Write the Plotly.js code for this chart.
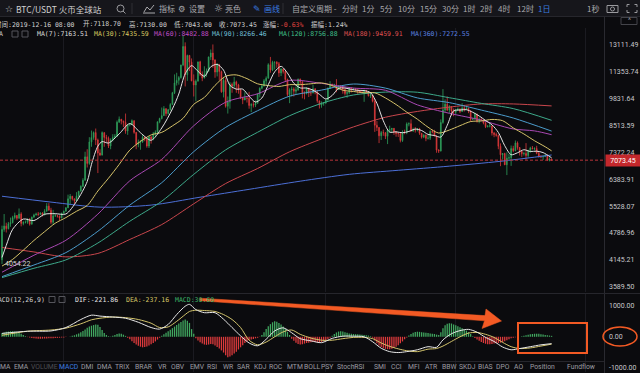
<!DOCTYPE html>
<html><head><meta charset="utf-8">
<script src="https://cdn.plot.ly/plotly-3.0.1.min.js"></script>
<style>html,body{margin:0;padding:0;background:#0b0b0e;}#c{width:640px;height:373px;}</style>
</head><body><div id="c"></div>
<script>
// ---------- DATA (daily OHLC, BTC/USDT, from 2019-04-02) ----------
const startDay = [2019, 3, 2];
const apr = [[4146,4980,4054.22,4880],[4880,5300,4820,4970],[4970,5060,4800,4900],[4900,5080,4880,5030],[5030,5200,4950,5060],[5060,5250,5040,5200],[5200,5340,5150,5260],[5260,5270,5130,5180],[5180,5460,5170,5300],[5300,5350,4960,5040],[5040,5100,4990,5070],[5070,5120,5040,5070],[5070,5180,5030,5140],[5140,5190,4980,5020],[5020,5230,5010,5210],[5210,5310,5200,5270],[5270,5340,5260,5300],[5300,5360,5240,5290],[5290,5350,5280,5330],[5330,5350,5230,5280],[5280,5440,5260,5380],[5380,5620,5370,5530],[5530,5620,5400,5410],[5410,5480,5020,5070],[5070,5420,5000,5250],[5250,5300,5220,5250],[5250,5280,5200,5240],[5240,5260,5120,5190],[5190,5340,5180,5320]];
const may = [[5320,5400,5310,5380],[5380,5500,5370,5480],[5480,5880,5470,5750],[5750,5900,5580,5830],[5830,5840,5700,5750],[5750,5760,5600,5690],[5690,5960,5680,5830],[5830,6000,5790,5990],[5990,6180,5980,6150],[6150,6420,6120,6350],[6350,7400,6340,7200],[7200,7500,6800,6950],[6950,8000,6900,7800],[7800,8290,7600,7990],[7990,8250,7890,8200],[8200,8380,7670,7880],[7880,7940,6600,7350],[7350,7500,7230,7270],[7270,8250,7250,8200],[8200,8200,7600,7990],[7990,8100,7800,7950],[7950,8030,7550,7630],[7630,7950,7500,7880],[7880,8130,7820,7990],[7990,8140,7960,8050],[8050,8750,8000,8670],[8670,8940,8640,8810],[8810,8820,8570,8720],[8720,8740,8450,8660],[8660,9080,8150,8270],[8270,8580,8100,8550]];
const jun = [[8550,8620,8480,8560],[8560,8800,8540,8740],[8740,8750,8150,8210],[8210,8220,7500,7700],[7700,7900,7580,7790],[7790,7880,7480,7800],[7800,8100,7760,8000],[8000,8050,7830,7930],[7930,7940,7560,7630],[7630,8050,7550,8020],[8020,8030,7730,7920],[7920,8230,7870,8150],[8150,8300,8050,8230],[8230,8700,8180,8690],[8690,8880,8620,8840],[8840,9380,8800,8980],[8980,9450,8970,9320],[9320,9340,8950,9080],[9080,9310,9030,9270],[9270,9600,9230,9530],[9530,10200,9520,10150],[10150,11200,10080,10700],[10700,11300,10550,10850],[10850,11100,10600,11010],[11010,11800,10950,11780],[11780,13800,11700,13010],[13010,13300,10500,11180],[11180,12450,10820,12400],[12400,12430,11400,11960],[11960,12200,10800,10820]];
const jul = [[10820,11200,9950,10580],[10580,10900,9700,10800],[10800,11980,10790,11980],[11980,12050,11100,11210],[11210,11380,10800,10980],[10980,11700,10970,11230],[11230,11560,11060,11400],[11400,12320,11360,12300],[12300,12800,12100,12560],[12560,13150,11600,12100],[12100,12150,11000,11340],[11340,11900,11080,11800],[11800,11850,10850,11370],[11370,11430,10150,10200],[10200,11050,9900,10850],[10850,11000,9370,9440],[9440,9950,9080,9660],[9660,10750,9320,10620],[10620,10720,10150,10530],[10530,11050,10420,10760],[10760,10830,10150,10590],[10590,10650,10100,10320],[10320,10330,9820,9870],[9870,9930,9550,9770],[9770,10180,9750,9880],[9880,9900,9630,9850],[9850,10200,9320,9480],[9480,9600,9150,9530],[9530,9700,9380,9500],[9500,9740,9400,9590],[9590,10120,9580,10080]];
const aug = [[10080,10450,9900,10400],[10400,10650,10340,10520],[10520,10920,10500,10820],[10820,11080,10580,10970],[10970,11890,10960,11800],[11800,12300,11300,11470],[11470,12050,11400,11950],[11950,12000,11500,11960],[11960,12020,11600,11860],[11860,11970,11050,11290],[11290,11580,11100,11530],[11530,11550,11250,11380],[11380,11430,10800,10900],[10900,10950,9950,10050],[10050,10400,9600,10300],[10300,10500,9950,10360],[10360,10450,9950,10230],[10230,10490,10050,10320],[10320,10950,10250,10920],[10920,10950,10600,10760],[10760,10800,9850,10130],[10130,10230,9800,10110],[10110,10450,10060,10410],[10410,10420,9920,10140],[10140,10310,9980,10140],[10140,10600,10120,10370],[10370,10390,10070,10190],[10190,10300,9620,9720],[9720,9730,9330,9500],[9500,9690,9370,9580],[9580,9650,9470,9600]];
const sep = [[9600,9800,9580,9760],[9760,10450,9740,10390],[10390,10800,10360,10620],[10620,10660,10420,10580],[10580,10650,10460,10590],[10590,10920,10180,10320],[10320,10570,10300,10510],[10510,10580,10330,10440],[10440,10480,10100,10340],[10340,10380,10000,10110],[10110,10200,9880,10160],[10160,10450,10080,10420],[10420,10440,10170,10360],[10360,10420,10290,10370],[10370,10390,10270,10310],[10310,10370,10090,10260],[10260,10270,10140,10190],[10190,10280,10120,10160],[10160,10320,9670,10270],[10270,10300,10100,10180],[10180,10200,9950,9990],[9990,10100,9870,10030],[10030,10050,9640,9700],[9700,9800,8230,8530],[8530,8720,8270,8430],[8430,8440,7750,8060],[8060,8270,7880,8200],[8200,8330,8060,8190],[8190,8220,7920,8040],[8040,8350,7710,8290]];
const oct = [[8290,8510,8230,8340],[8340,8400,8200,8390],[8390,8400,8100,8230],[8230,8250,8020,8160],[8160,8190,8010,8150],[8150,8180,7780,7860],[7860,8300,7800,8210],[8210,8330,8130,8200],[8200,8660,8130,8590],[8590,8660,8480,8600],[8600,8800,8250,8260],[8260,8420,8250,8320],[8320,8450,8200,8310],[8310,8400,8250,8370],[8370,8410,8100,8170],[8170,8180,7940,8000],[8000,8130,7960,8090],[8090,8120,7830,7950],[7950,8100,7900,7960],[7960,8300,7880,8250],[8250,8330,8170,8230],[8230,8320,8030,8050],[8050,8060,7360,7470],[7470,7500,7350,7430],[7430,8800,7410,8660],[8660,10350,8600,9260],[9260,9800,9140,9550],[9550,9950,9200,9250],[9250,9500,9100,9430],[9430,9440,8980,9210],[9210,9330,8950,9150]];
const nov = [[9150,9290,9040,9250],[9250,9380,9220,9310],[9310,9330,9100,9180],[9180,9600,9170,9360],[9360,9490,9180,9310],[9310,9420,9250,9340],[9340,9370,9100,9210],[9210,9230,8700,8800],[8800,8880,8770,8810],[8810,9120,8800,9040],[9040,9080,8650,8730],[8730,8890,8620,8820],[8820,8850,8720,8760],[8760,8790,8570,8630],[8630,8680,8400,8460],[8460,8530,8430,8490],[8490,8650,8430,8500],[8500,8510,8070,8180],[8180,8230,8000,8120],[8120,8200,8020,8080],[8080,8110,7500,7620],[7620,7740,6850,7280],[7280,7350,7100,7330],[7330,7360,6890,6900],[6900,7380,6530,7150],[7150,7320,7080,7170],[7170,7650,6860,7530],[7530,7640,7380,7440],[7440,7860,7420,7760],[7760,7820,7480,7570]];
const dec = [[7570,7580,7250,7420],[7420,7430,7200,7320],[7320,7400,7250,7330],[7330,7750,7090,7250],[7250,7480,7170,7450],[7450,7600,7360,7550],[7550,7630,7500,7520],[7520,7580,7460,7530],[7530,7640,7300,7340],[7340,7390,7170,7220],[7220,7270,7150,7200],[7200,7270,7080,7210],[7210,7300,7190,7260],[7260,7280,7040,7070],[7070,7180,7030,7118.7],[7118.7,7130,7043,7073.45]];

// Moving averages (day index from 2019-04-02)
const ma7Days = [0,2,5,10,15,20,25,30,35,40,42,45,47,50,55,60,65,70,75,80,83,86,89,92,95,98,101,104,107,110,113,116,119,122,125,128,131,134,137,140,143,146,149,152,155,158,161,164,167,170,173,176,179,182,185,188,191,194,197,200,203,206,209,212,215,218,221,224,227,230,233,236,239,242,245,248,251,254,258];
const ma7Vals = [4200,4480,4884,5159,5117,5294,5310,5301,5673,6309,6919,7624,7813,7753,8140,8606,8193,7870,8404,9310,10084,11240,11737,11389,11086,11666,11819,11460,10563,10350,10351,9966,9657,9871,10597,11356,11694,11281,10679,10420,10411,10294,10067,9817,10004,10394,10411,10334,10283,10273,10154,9590,8734,8221,8234,8191,8251,8356,8290,8121,8074,8006,8524,9216,9254,9271,9144,8964,8750,8549,8207,7644,7283,7360,7480,7411,7423,7366,7163.51];
const ma30Days = [0,5,10,15,20,25,30,35,40,45,50,55,60,65,70,75,80,85,90,95,100,105,110,115,120,125,130,135,140,145,150,155,160,165,170,175,180,185,190,195,200,205,210,215,220,225,230,235,240,245,250,255,258];
const ma30Vals = [4010,4157,4367,4600,4821,5045,5200,5380,5549,5996,6421,6912,7467,7820,8100,8210,8500,8850,9542,9900,10560,11090,11170,10950,10650,10550,10500,10600,10600,10650,10700,10550,10290,10220,10150,10150,9872,9530,9150,8810,8440,8180,8313,8510,8700,8727,8798,8740,8409,8139,7848,7599,7435.59];
const ma60Days = [0,15,30,45,60,75,90,105,120,135,150,165,180,195,210,225,232,240,250,258];
const ma60Vals = [3880,4250,4605,5298,6333,7103,8505,9650,10096,10845,10675,10410,10286,9513,9093,8767,8562,8361,8274,8108];
const ma90Days = [0,15,30,45,60,75,90,105,120,135,150,165,180,195,210,225,240,258];
const ma90Vals = [3790,4033,4310,4832,5559,6269,7403,8432,9220,9967,10297,10637,10407,9875,9628,9251,8865,8266.46];
const ma120Days = [0,15,30,45,60,75,90,105,120,135,150,165,180,195,210,225,240,258];
const ma120Vals = [3770,3963,4145,4537,5099,5677,6555,7474,8215,8974,9590,10030,10186,10179,9884,9588,9324,8756.88];
const ma180Days = [0,15,30,45,60,75,90,105,120,135,150,165,180,195,210,225,240,258];
const ma180Vals = [4430,4325,4213,4291,4625,5009,5598,6241,6765,7399,7928,8453,8902,9184,9400,9560,9560,9459.91];
const ma360Days = [0,23,46,70,93,116,140,163,186,210,234,258];
const ma360Vals = [5830,5650,5500,5560,5800,6050,6320,6556,6700,6850,7030,7272.55];

// MACD histogram per day
const macdHist = [120,140,160,170,180,180,175,160,130,100,60,20,
 -10,-25,-40,-50,-55,-60,-60,-60,-55,-55,-50,-50,-45,-40,-35,-30,-25,-20,
 -10,0,10,30,50,
 80,110,150,190,240,290,330,360,380,400,390,320,220,
 120,60,20,10,30,
 60,90,110,100,70,30,
 -30,-80,-140,-200,-250,-290,-320,-340,-330,-310,-280,-240,-200,-150,-90,-30,
 30,80,130,180,230,280,330,380,430,480,530,560,520,450,
 250,100,-50,-120,-180,-220,-250,-260,-250,-230,-240,-280,-330,-380,-440,-510,-600,-660,-640,-600,-540,-480,-410,-340,-270,-200,
 -150,-110,-90,-70,-50,-30,-10,
 60,150,250,340,410,470,500,490,450,400,330,250,160,60,
 -60,-130,-190,-230,-250,-240,-220,-200,-190,-180,-170,-170,-175,-180,-170,
 -140,-110,-70,-30,
 30,90,140,170,180,170,150,130,110,100,90,85,80,75,70,60,50,40,20,
 -30,-120,-210,-280,-330,-370,-390,-400,-400,-390,-360,-320,-270,-210,-150,-80,
 -20,40,90,130,155,165,160,150,140,130,120,110,100,90,
 70,60,150,280,370,420,440,430,400,370,340,310,280,240,200,150,
 90,20,-40,-90,-130,-170,-200,-225,-240,-240,-230,-220,-210,-200,-190,-170,-140,-110,-80,
 -50,-30,-15,-5,
 5,15,30,50,65,80,90,98,100,95,85,75,60,50,40,30.6];
const macdDays = [0,12,23,30,37,42,46,52,58,64,70,74,78,82,86,88,91,95,100,104,108,112,116,120,124,128,132,136,140,145,150,155,160,165,170,174,178,182,186,190,195,200,204,207,211,215,219,223,227,231,235,239,243,248,253,258];
const difVals = [110,180,190,300,560,700,670,640,600,470,300,250,400,720,990,1050,880,780,780,570,300,30,-200,-290,-80,190,290,130,-60,-130,-190,-50,20,20,0,-160,-370,-480,-510,-480,-420,-320,-340,-100,100,200,240,150,-20,-150,-330,-420,-380,-320,-260,-221.86];
const deaVals = [50,180,220,280,420,550,600,640,620,560,440,300,320,500,720,820,860,850,820,720,560,300,-110,-260,-170,0,160,220,80,-40,-110,-110,-60,-20,-20,-60,-200,-310,-390,-450,-480,-400,-380,-300,-150,0,120,140,80,-20,-180,-320,-380,-360,-300,-237.16];

const priceTicks = [13111.49,11353.74,9831.64,8513.59,7372.24,6383.91,5528.07,4786.96,4145.21,3589.50];
const macdTicks = [1000,0,-1000];
const lastPrice = 7073.45;
const lowLabel = 4054.22;

// ---------- BUILD ----------
const rows = [].concat(apr, may, jun, jul, aug, sep, oct, nov, dec);
function dayStr(i){ return new Date(Date.UTC(startDay[0], startDay[1], startDay[2] + i)).toISOString().slice(0,10); }
const dates = rows.map((r,i)=>dayStr(i));
const opens = rows.map(r=>r[0]), highs = rows.map(r=>r[1]), lows = rows.map(r=>r[2]), closes = rows.map(r=>r[3]);
const xr = ['2019-04-01 01:30', '2020-01-09 14:24'];

function maTrace(days, vals, color){
  return {type:'scatter', mode:'lines', x: days.map(d=>dates[d]), y: vals, xaxis:'x', yaxis:'y',
    line:{color:color, width:1, shape:'spline', smoothing:0.8}, hoverinfo:'skip'};
}
const traces = [
  {type:'candlestick', x:dates, open:opens, high:highs, low:lows, close:closes, xaxis:'x', yaxis:'y',
   increasing:{line:{color:'#2f9e5b', width:0.8}, fillcolor:'#2f9e5b'},
   decreasing:{line:{color:'#d9383a', width:0.8}, fillcolor:'#d9383a'}, whiskerwidth:0, hoverinfo:'skip'},
  maTrace(ma360Days, ma360Vals, '#4c6fd6'),
  maTrace(ma180Days, ma180Vals, '#c9464c'),
  maTrace(ma120Days, ma120Vals, '#3da98a'),
  maTrace(ma90Days, ma90Vals, '#4b9ccc'),
  maTrace(ma60Days, ma60Vals, '#a948b3'),
  maTrace(ma30Days, ma30Vals, '#d6c36a'),
  maTrace(ma7Days, ma7Vals, '#e4e4e4'),
  {type:'scatter', mode:'lines', x:xr, y:[lastPrice,lastPrice], xaxis:'x', yaxis:'y',
   line:{color:'#b8353a', width:1, dash:'3px,2px'}, hoverinfo:'skip'},
  {type:'bar', x:dates, y:macdHist, xaxis:'x', yaxis:'y2',
   marker:{color: macdHist.map(v=> v>=0 ? '#41a860' : '#dc3a3c'), line:{width:0}}, hoverinfo:'skip'},
  {type:'scatter', mode:'lines', x:macdDays.map(d=>dates[d]), y:deaVals, xaxis:'x', yaxis:'y2',
   line:{color:'#d4c56d', width:1, shape:'spline', smoothing:0.8}, hoverinfo:'skip'},
  {type:'scatter', mode:'lines', x:macdDays.map(d=>dates[d]), y:difVals, xaxis:'x', yaxis:'y2',
   line:{color:'#e8e8e8', width:1, shape:'spline', smoothing:0.8}, hoverinfo:'skip'}
];

// ---------- PIXEL HELPERS for overlay text/shapes ----------
const W = 604, H = 373;
const PX = x => x / W, PY = y => 1 - y / H;
const MONO = 'DejaVu Sans Mono, Noto Sans CJK SC, monospace';
const SANS = 'Noto Sans CJK SC, Noto Sans, sans-serif';
const UI = 'Roboto, Noto Sans, sans-serif';
function T(text, x, y, color, size, family, anchor){
  return {text:text, x:PX(x), y:PY(y), xref:'paper', yref:'paper', xanchor:anchor||'left', yanchor:'middle',
    showarrow:false, font:{color:color, size:size, family:family}, borderpad:0};
}
function R(x0,y0,x1,y1,fill,lc,lw){
  return {type:'rect', xref:'paper', yref:'paper', x0:PX(x0), x1:PX(x1), y0:PY(y0), y1:PY(y1),
    fillcolor:fill||'rgba(0,0,0,0)', line:{color:lc||'rgba(0,0,0,0)', width:lw||0}, layer:'above'};
}
function L(x0,y0,x1,y1,color,w){
  return {type:'line', xref:'paper', yref:'paper', x0:PX(x0), x1:PX(x1), y0:PY(y0), y1:PY(y1), line:{color:color, width:w||1}, layer:'above'};
}
function P(pts, fill, lc, lw, close){
  let d = pts.map((p,i)=>(i?'L':'M')+PX(p[0]).toFixed(5)+','+PY(p[1]).toFixed(5)).join(' ') + (close?' Z':'');
  return {type:'path', xref:'paper', yref:'paper', path:d, fillcolor:fill||'rgba(0,0,0,0)', line:{color:lc||'rgba(0,0,0,0)', width:lw||0}, layer:'above'};
}

const TB = '#a9a9ad', BLUE = '#3b7de0', OR = '#f35a24';
const ann = [
  // toolbar
  T('☆', 4, 8.5, '#c8c8c8', 9, 'DejaVu Sans'),
  T('BTC/USDT 火币全球站', 15, 8.5, '#d2d2d2', 8.5, SANS),
  T('指标', 158, 8.5, TB, 8, SANS),
  T('⚙', 177, 8.5, TB, 8.5, 'DejaVu Sans'),
  T('设置', 188, 8.5, TB, 8, SANS),
  T('☼', 213, 8.5, TB, 10, 'DejaVu Sans'),
  T('亮色', 224, 8.5, TB, 8, SANS),
  T('✎', 252, 8.5, BLUE, 9, 'DejaVu Sans'),
  T('画线', 263, 8.5, BLUE, 8, SANS),
  T('自定义周期 -', 291, 8.5, TB, 8, SANS),
  T('分时', 341, 8.5, TB, 8, SANS),
  T('1分', 361, 8.5, TB, 8, SANS),
  T('5分', 379, 8.5, TB, 8, SANS),
  T('10分', 397, 8.5, TB, 8, SANS),
  T('15分', 419, 8.5, TB, 8, SANS),
  T('30分', 441, 8.5, TB, 8, SANS),
  T('1时', 462, 8.5, TB, 8, SANS),
  T('2时', 479, 8.5, TB, 8, SANS),
  T('4时', 497, 8.5, TB, 8, SANS),
  T('12时', 516, 8.5, TB, 8, SANS),
  T('1日', 537, 8.5, BLUE, 8, SANS),
  T('1秒', 586, 8.5, TB, 8, SANS),
  // info row
  T('时间:2019-12-16 08:00', 75.5, 24, '#cfcfcf', 6.5, MONO, 'right'),
  T('开:7118.70', 82, 24, '#cfcfcf', 6.5, MONO),
  T('高:7130.00', 128, 24, '#cfcfcf', 6.5, MONO),
  T('低:7043.00', 173, 24, '#cfcfcf', 6.5, MONO),
  T('收:7073.45', 218, 24, '#cfcfcf', 6.5, MONO),
  T('涨幅:<span style="color:#e0433f">-0.63%</span>', 262, 24, '#cfcfcf', 6.5, MONO),
  T('振幅:1.24%', 310, 24, '#cfcfcf', 6.5, MONO),
  // MA row
  T('MA', 4, 34, '#cfcfcf', 6.5, MONO, 'right'),
  T('MA(7):7163.51', 36, 34, '#dcdcdc', 6.5, MONO),
  T('MA(30):7435.59', 93, 34, '#d9c862', 6.5, MONO),
  T('MA(60):8482.88', 153, 34, '#c04bc6', 6.5, MONO),
  T('MA(90):8266.46', 211, 34, '#6fbfd6', 6.5, MONO),
  T('MA(120):8756.88', 278, 34, '#3fbf88', 6.5, MONO),
  T('MA(180):9459.91', 343, 34, '#df4f50', 6.5, MONO),
  T('MA(360):7272.55', 410, 34, '#5a80e0', 6.5, MONO),
  // MACD header
  T('MACD(12,26,9)', 45.5, 299.5, '#cfcfcf', 6.5, MONO, 'right'),
  T('DIF:-221.86', 74, 299.5, '#e4e4e4', 6.5, MONO),
  T('DEA:-237.16', 125, 299.5, '#d6c766', 6.5, MONO),
  T('MACD:30.60', 174, 299.5, '#3db36a', 6.5, MONO),
  // labels on the chart
  {text:'4054.22', x:dates[0], y:Math.log10(lowLabel), xref:'x', yref:'y', xanchor:'left', yanchor:'middle', xshift:1,
   showarrow:false, font:{color:'#d6d6d6', size:7, family:UI}},
  {text:'7073.45', x:1, y:Math.log10(lastPrice), xref:'paper', yref:'y', xanchor:'left', yanchor:'middle', xshift:1,
   showarrow:false, bgcolor:'#c4282c', width:34, height:11, borderpad:0, font:{color:'#ffffff', size:7, family:UI}},
  T('^', 629, 21, '#9a9a9a', 7, UI, 'center')
];
const names = [['MA',-1],['EMA',13],['VOLUME',30],['MACD',58],['DMI',80],['DMA',96],['TRIX',114],['BRAR',134],['VR',157],['OBV',170],['EMV',189],['RSI',206],['WR',222],['SAR',236],['KDJ',253],['ROC',268],['MTM',286],['BOLL',303],['PSY',320],['StochRSI',336],['SMI',373],['CCI',390],['MFI',407],['ATR',424],['BBW',441],['SKDJ',458],['BIAS',477],['DPO',495],['AO',513],['Position',529],['Fundflow',566]];
names.forEach(n=>{
  const c = n[0]==='MACD' ? BLUE : (n[0]==='VOLUME' ? '#4e4e54' : '#9c9ca2');
  ann.push(T(n[0], n[1], 366.5, c, 6.8, UI));
});

const shapes = [
  R(0,0,640,16.5,'#16161b'),
  L(0,16.5,640,16.5,'#26262c',1),
  L(132,3,132,14,'#2e2e34',1),
  L(283,3,283,14,'#2e2e34',1),
  L(604.5,16.5,604.5,373,'#2a2a30',1),
  L(0,293.5,640,293.5,'#26262c',1),
  L(0,361.5,604,361.5,'#26262c',1),
  // search icon
  {type:'circle', xref:'paper', yref:'paper', x0:PX(117), x1:PX(124), y0:PY(5), y1:PY(12), line:{color:'#9a9a9e', width:1}, layer:'above'},
  L(123,11,125.5,13.5,'#9a9a9e',1),
  // indicator icon
  P([[144,12],[147,7],[150,10],[154,5]], null, TB, 1, false),
  L(143,13,155,13,TB,1),
  // small boxes in MA row and MACD row
  R(12,31,18,37,null,'#55555b',1), R(22,31,28,37,null,'#55555b',1),
  R(49,296.5,55,302.5,null,'#55555b',1), R(59,296.5,65,302.5,null,'#55555b',1),
  // camera icon
  R(607,5.5,618,12.5,null,'#9a9a9e',1),
  {type:'circle', xref:'paper', yref:'paper', x0:PX(610.5), x1:PX(614.5), y0:PY(7), y1:PY(11), line:{color:'#9a9a9e', width:1}, layer:'above'},
  // fullscreen icon
  P([[627,7],[627,4.5],[629.5,4.5]], null, '#9a9a9e', 1), P([[634.5,4.5],[637,4.5],[637,7]], null, '#9a9a9e', 1),
  P([[627,10],[627,12.5],[629.5,12.5]], null, '#9a9a9e', 1), P([[634.5,12.5],[637,12.5],[637,10]], null, '#9a9a9e', 1),
  // collapse button
  R(621,17.5,637,24.5,null,'#44444a',1),
  // orange annotation marks
  P([[200,298.2],[485,315.6],[486,309],[501.5,321],[482,328.5],[484.5,320.8],[200,300.8]], OR, OR, 0.5, true),
  R(518,323,587,353,null,OR,2),
  {type:'circle', xref:'paper', yref:'paper', x0:PX(603), x1:PX(637), y0:PY(327), y1:PY(346), line:{color:OR, width:1.5}, layer:'above'}
];

const layout = {
  width:640, height:373, margin:{l:0,r:36,t:0,b:0}, showlegend:false,
  paper_bgcolor:'#0b0b0e', plot_bgcolor:'#0b0b0e', bargap:0.4, boxgap:0.5,
  xaxis:{type:'date', range:xr, domain:[0,1], anchor:'y2', showticklabels:false, ticks:'',
    showgrid:true, gridcolor:'#1b1b21', gridwidth:1, tick0:'2019-05-01', dtick:'M2', zeroline:false,
    rangeslider:{visible:false}, fixedrange:true, showline:false},
  yaxis:{type:'log', domain:[1-292/373, 1-28/373], range:[Math.log10(3489.9), Math.log10(14362)], side:'right',
    tickvals:priceTicks, ticktext:priceTicks.map(v=>v.toFixed(2)), showgrid:false, zeroline:false, ticks:'',
    ticklabelstandoff:4, tickfont:{color:'#c8c8cc', size:7, family:UI}, fixedrange:true},
  yaxis2:{domain:[1-372/373, 1-294/373], range:[-1139,1385], side:'right', anchor:'x',
    tickvals:macdTicks, ticktext:macdTicks.map(v=>v.toFixed(2)), showgrid:false, zeroline:false, ticks:'',
    ticklabelstandoff:4, tickfont:{color:'#c8c8cc', size:7, family:UI}, fixedrange:true},
  annotations:ann, shapes:shapes
};
Plotly.newPlot('c', traces, layout, {staticPlot:true, displayModeBar:false});
</script></body></html>
